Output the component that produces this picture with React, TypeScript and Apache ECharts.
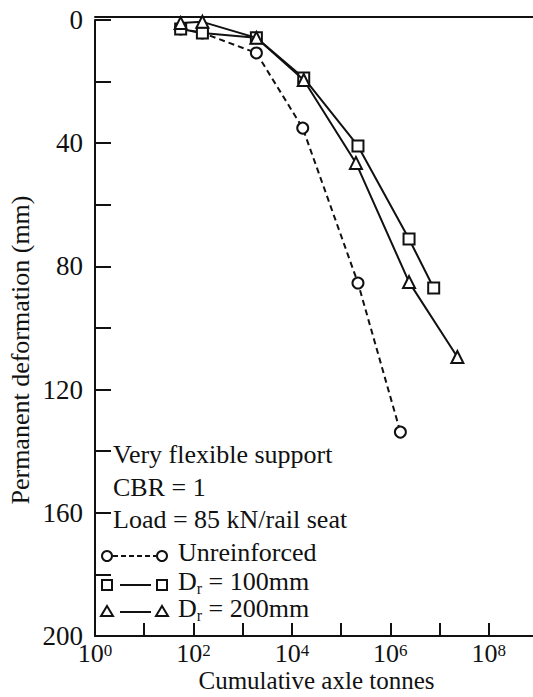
import React, { useEffect, useRef } from 'react';
import * as echarts from 'echarts';

// ---- data ----
const unreinforcedTonnes = [55, 152, 1900, 16600, 220000, 1600000];
const unreinforcedDeformation = [2.9, 4.2, 10.7, 35.1, 85.4, 133.8];
const dr100Tonnes = [55, 152, 1900, 17400, 220000, 2400000, 7600000];
const dr100Deformation = [2.9, 4.2, 5.8, 18.8, 40.9, 71.1, 87.0];
const dr200Tonnes = [55, 152, 1900, 17400, 200000, 2400000, 23000000];
const dr200Deformation = [1.0, 0.6, 5.8, 19.5, 46.4, 85.1, 109.4];
const seriesNames = ['Unreinforced', 'Dr = 100mm', 'Dr = 200mm'];
const noteLines = ['Very flexible support', 'CBR = 1', 'Load = 85 kN/rail seat'];
const xLabelExponents = [0, 2, 4, 6, 8];
const yLabelValues = [0, 40, 80, 120, 160, 200];
const xTitle = 'Cumulative axle tonnes';
const yTitle = 'Permanent deformation (mm)';

const FONT = "'Liberation Serif', 'Times New Roman', serif";
const INK = '#111';

const zip = (xs: number[], ys: number[]) => xs.map((x, i) => [x, ys[i]]);

export default function App() {
  const ref = useRef<HTMLDivElement>(null);
  useEffect(() => {
    if (!ref.current) return;
    const chart = echarts.init(ref.current, undefined, { renderer: 'svg' });

    const markerStyle = { color: '#fff', borderColor: INK, borderWidth: 2 };
    const rowY = [556, 585, 612];
    const note = noteLines.map((t, i) => ({
      type: 'text',
      left: 113,
      top: [441, 474, 506][i],
      style: { text: t, font: `26px ${FONT}`, fill: INK },
    }));
    const subRich = {
      b: { fontFamily: FONT, fontSize: 26, fill: INK, lineHeight: 30, verticalAlign: 'middle' },
      s: { fontFamily: FONT, fontSize: 16, fill: INK, lineHeight: 16, verticalAlign: 'bottom' },
    };
    const legendText = [
      { type: 'text', left: 178, top: 539, style: { text: seriesNames[0], font: `26px ${FONT}`, fill: INK } },
      { type: 'text', left: 178, top: 568, style: { text: '{b|D}{s|r}{b| = 100mm}', rich: subRich } },
      { type: 'text', left: 178, top: 595, style: { text: '{b|D}{s|r}{b| = 200mm}', rich: subRich } },
    ];
    const symStyle = { fill: '#fff', stroke: INK, lineWidth: 2 };
    const tri = (cx: number, cy: number) => [[cx, cy - 6], [cx + 6, cy + 4], [cx - 6, cy + 4]];
    const legendMarks: any[] = [
      { type: 'line', shape: { x1: 113, y1: rowY[0], x2: 156, y2: rowY[0] }, style: { stroke: INK, lineWidth: 2, lineDash: [5, 3] } },
      { type: 'circle', shape: { cx: 107, cy: rowY[0], r: 5 }, style: symStyle },
      { type: 'circle', shape: { cx: 162, cy: rowY[0], r: 5 }, style: symStyle },
      { type: 'line', shape: { x1: 120, y1: rowY[1], x2: 151, y2: rowY[1] }, style: { stroke: INK, lineWidth: 2 } },
      { type: 'rect', shape: { x: 102, y: rowY[1] - 5, width: 10, height: 10 }, style: symStyle },
      { type: 'rect', shape: { x: 157, y: rowY[1] - 5, width: 10, height: 10 }, style: symStyle },
      { type: 'line', shape: { x1: 120, y1: rowY[2], x2: 151, y2: rowY[2] }, style: { stroke: INK, lineWidth: 2 } },
      { type: 'polygon', shape: { points: tri(107, rowY[2]) }, style: symStyle },
      { type: 'polygon', shape: { points: tri(162, rowY[2]) }, style: symStyle },
    ];

    chart.setOption({
      animation: false,
      backgroundColor: '#fff',
      grid: { left: 95, top: 20, right: -5, bottom: 61, containLabel: false, outerBoundsMode: 'none' },
      xAxis: [
        {
          type: 'log',
          logBase: 10,
          min: 1,
          max: 1e9,
          splitNumber: 9,
          position: 'bottom',
          name: xTitle,
          nameLocation: 'middle',
          nameGap: 32,
          nameMoveOverlap: false,
          nameTextStyle: { fontFamily: FONT, fontSize: 25, color: INK, lineHeight: 25 },
          axisLine: { show: true, onZero: false, lineStyle: { color: INK, width: 2 } },
          axisTick: { show: true, inside: true, length: 13, lineStyle: { color: INK, width: 2 } },
          splitLine: { show: false },
          axisLabel: {
            margin: 6,
            formatter: (v: number) => {
              const e = Math.round(Math.log10(v));
              return xLabelExponents.includes(e) ? `{b|10}{s|${e}}` : '';
            },
            rich: {
              b: { fontFamily: FONT, fontSize: 26, color: INK, lineHeight: 24, verticalAlign: 'bottom' },
              s: { fontFamily: FONT, fontSize: 17, color: INK, lineHeight: 15, verticalAlign: 'top' },
            },
          },
        },
        {
          type: 'value',
          position: 'top',
          offset: 3,
          min: 0,
          max: 1,
          axisLine: { show: true, onZero: false, lineStyle: { color: INK, width: 2 } },
          axisTick: { show: false },
          axisLabel: { show: false },
          splitLine: { show: false },
        },
      ],
      yAxis: {
        type: 'value',
        inverse: true,
        min: 0,
        max: 200,
        interval: 20,
        name: yTitle,
        nameLocation: 'middle',
        nameRotate: 90,
        nameGap: 62,
        nameMoveOverlap: false,
        nameTextStyle: { fontFamily: FONT, fontSize: 26, color: INK, padding: [0, 44, 0, 0] },
        axisLine: { show: true, onZero: false, lineStyle: { color: INK, width: 2 } },
        axisTick: { show: true, inside: true, length: 16, lineStyle: { color: INK, width: 2 } },
        splitLine: { show: false },
        axisLabel: {
          margin: 12,
          fontFamily: FONT,
          fontSize: 27,
          color: INK,
          formatter: (v: number) => (yLabelValues.includes(v) ? String(v) : ''),
        },
      },
      series: [
        {
          name: seriesNames[0],
          type: 'line',
          data: zip(unreinforcedTonnes, unreinforcedDeformation),
          symbol: 'circle',
          symbolSize: 11,
          lineStyle: { color: INK, width: 2, type: [6, 4] },
          itemStyle: markerStyle,
          z: 3,
        },
        {
          name: seriesNames[1],
          type: 'line',
          data: zip(dr100Tonnes, dr100Deformation),
          symbol: 'rect',
          symbolSize: 11,
          lineStyle: { color: INK, width: 2 },
          itemStyle: markerStyle,
          z: 4,
        },
        {
          name: seriesNames[2],
          type: 'line',
          data: zip(dr200Tonnes, dr200Deformation),
          symbol: 'triangle',
          symbolSize: 12,
          lineStyle: { color: INK, width: 2 },
          itemStyle: markerStyle,
          z: 5,
        },
      ],
      graphic: [...note, ...legendMarks, ...legendText],
    });
    return () => chart.dispose();
  }, []);
  return (
    <div
      ref={ref}
      style={{ position: 'fixed', left: 0, top: 0, width: 533, height: 697, background: '#fff' }}
    />
  );
}
